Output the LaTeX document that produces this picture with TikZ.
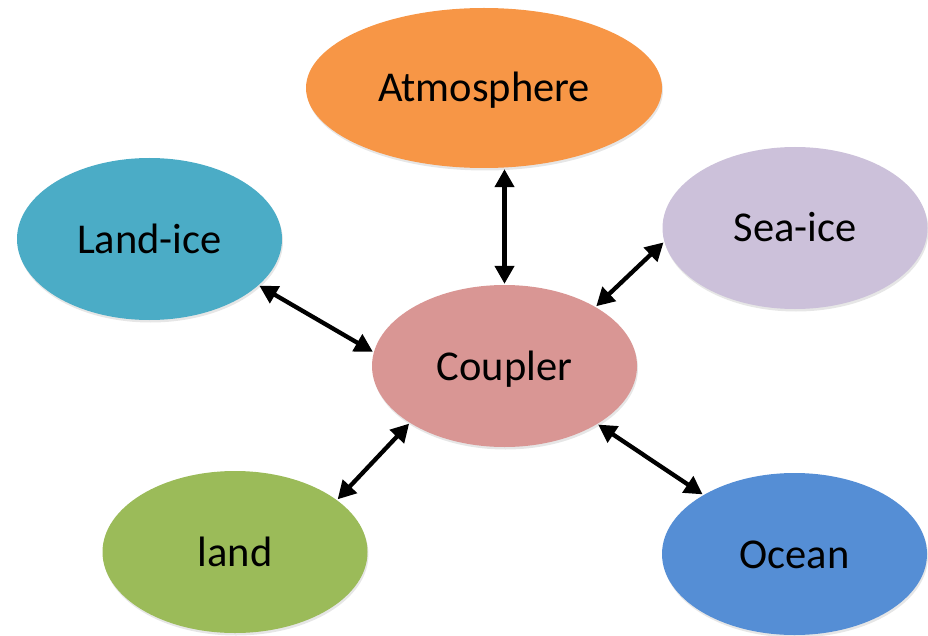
\documentclass[tikz,border=0pt]{standalone}
\usepackage{fontspec}
\setmainfont{Carlito}
\usetikzlibrary{shapes.geometric,arrows.meta,shadows}
\definecolor{atmcol}{HTML}{F79646}
\definecolor{licol}{HTML}{4BACC6}
\definecolor{sicol}{HTML}{CCC1DA}
\definecolor{cpcol}{HTML}{D99694}
\definecolor{lacol}{HTML}{9BBB59}
\definecolor{occol}{HTML}{558ED5}
\tikzset{
  comp/.style={ellipse, draw=none, inner sep=0pt, minimum width=265pt, minimum height=162pt,
    font=\fontsize{42.5}{46}\selectfont, text=black, text height=28pt, text depth=0pt,
    drop shadow={opacity=0.2, shadow xshift=1pt, shadow yshift=-2.5pt}},
  link/.style={line width=4.3pt, black, {Triangle[length=18pt,width=19pt]}-{Triangle[length=18pt,width=19pt]}, shorten <=1pt, shorten >=1pt}
}
\begin{document}
\begin{tikzpicture}[x=1pt,y=-1pt]
\useasboundingbox (0,0) rectangle (928,636);
\node[comp, fill=atmcol, minimum width=356pt, minimum height=160pt] (at) at (484,88) {Atmosphere};
\node[comp, fill=licol] (li) at (149.5,239) {Land-ice};
\node[comp, fill=sicol] (si) at (795,228) {Sea-ice};
\node[comp, fill=cpcol] (cp) at (504.5,366) {Coupler};
\node[comp, fill=lacol] (la) at (235,552) {land};
\node[comp, fill=occol] (oc) at (794.5,554) {Ocean};
\draw[link] (cp.north |- at.south) -- (cp.north);
\draw[link] (li.-23) -- (cp.174);
\draw[link] (si.186) -- (cp.33);
\draw[link] (la.27) -- (cp.211);
\draw[link] (oc.147) -- (cp.-32);
\end{tikzpicture}
\end{document}
